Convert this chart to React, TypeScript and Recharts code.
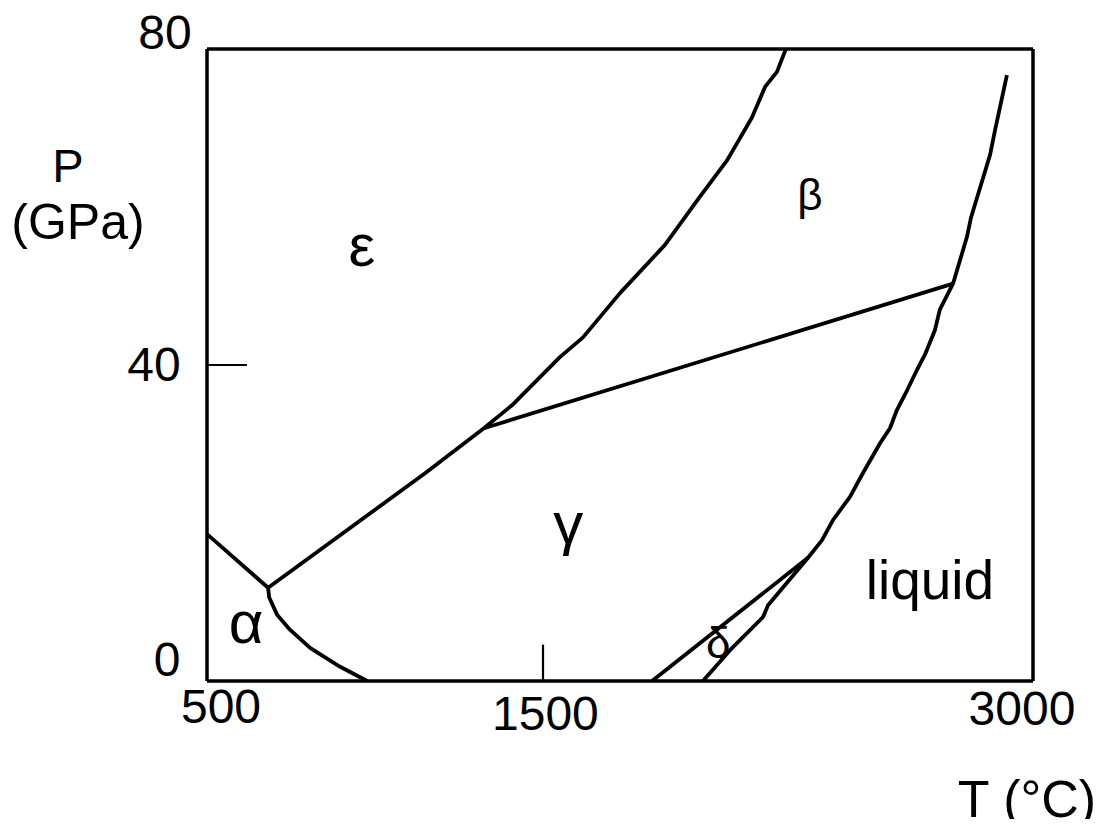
import React from 'react';
import {
  LineChart,
  Line,
  XAxis,
  YAxis,
  ReferenceLine,
  ReferenceDot,
} from 'recharts';

// phase boundaries, [T (°C), P (GPa)]
const alphaGammaHigh: [number, number][] = [
  [500, 18.6],
  [685, 11.8],
];
const alphaGammaLow: [number, number][] = [
  [685, 11.8],
  [688, 10.6],
  [712, 8.4],
  [751, 6.5],
  [812, 4.2],
  [903, 1.8],
  [985, 0],
];
const epsilonBoundary: [number, number][] = [
  [685, 11.8],
  [1160, 26.3],
  [1338, 32.0],
  [1423, 34.9],
  [1568, 41.0],
  [1638, 43.5],
  [1750, 49.1],
  [1886, 55.2],
  [1992, 61.3],
  [2074, 65.9],
  [2149, 71.3],
  [2189, 75.2],
  [2225, 77.1],
  [2252, 80.0],
];
const betaGamma: [number, number][] = [
  [1338, 32.0],
  [2758, 50.3],
];
const meltingCurve: [number, number][] = [
  [2001, 0],
  [2083, 3.9],
  [2183, 8.1],
  [2198, 9.6],
  [2319, 15.6],
  [2361, 17.8],
  [2395, 20.4],
  [2446, 23.3],
  [2485, 26.3],
  [2537, 30.1],
  [2567, 32.0],
  [2588, 34.3],
  [2619, 36.8],
  [2649, 39.4],
  [2673, 41.3],
  [2703, 44.4],
  [2718, 47.0],
  [2758, 50.3],
  [2800, 56.2],
  [2812, 58.6],
  [2870, 66.6],
  [2885, 69.7],
  [2921, 76.7],
];
const deltaGamma: [number, number][] = [
  [1847, 0],
  [2319, 15.6],
];

const xTicks = [500, 1500, 3000];
const yTicks = [0, 40, 80];

const phaseLabels = [
  { name: 'ε', T: 969, P: 55.2, big: true },
  { name: 'γ', T: 1593, P: 20.1, big: true },
  { name: 'α', T: 618, P: 7.5, big: true },
  { name: 'β', T: 2325, P: 61.6, big: false },
  { name: 'δ', T: 2047, P: 4.9, big: false },
];

const curves = [alphaGammaHigh, alphaGammaLow, epsilonBoundary, betaGamma, meltingCurve, deltaGamma];

const toRows = (pts: [number, number][]) => pts.map(([T, P]) => ({ T, P }));

const FONT = '"Liberation Sans", Arial, Helvetica, sans-serif';

// label placement in chart pixels (the original puts them slightly off the ticks)
const xTickStyle: Record<number, { dx: number; y: number }> = {
  500: { dx: 14, y: 723 },
  1500: { dx: 8, y: 730 },
  3000: { dx: -11, y: 725 },
};
const yTickStyle: Record<number, { x: number; y: number }> = {
  0: { x: 159, y: 676 },
  40: { x: 146, y: 381 },
  80: { x: 157, y: 49 },
};

const XTick = (props: any) => {
  const v = props.payload.value;
  const s = xTickStyle[v] || { dx: 0, y: props.y + 30 };
  return (
    <text x={props.x + s.dx} y={s.y} textAnchor="middle" fontSize={48} fill="#000">
      {v}
    </text>
  );
};

const YTick = (props: any) => {
  const v = props.payload.value;
  const s = yTickStyle[v] || { x: props.x - 20, y: props.y };
  return (
    <text x={s.x} y={s.y} textAnchor="middle" fontSize={48} fill="#000">
      {v}
    </text>
  );
};

export default function App() {
  const W = 1088;
  const H = 819;
  return (
    <div style={{ position: 'relative', width: W, height: H, marginTop: -8, fontFamily: FONT, background: '#fff' }}>
      <LineChart
        width={W}
        height={H}
        margin={{ top: 49, right: 63, left: 139, bottom: 108 }}
        style={{ overflow: 'visible' }}
      >
        <XAxis
          dataKey="T"
          type="number"
          domain={[500, 3000]}
          ticks={xTicks}
          height={30}
          allowDataOverflow
          axisLine={{ stroke: '#000', strokeWidth: 3.5 }}
          tickLine={false}
          tick={<XTick />}
          interval={0}
        />
        <YAxis
          dataKey="P"
          type="number"
          domain={[0, 80]}
          ticks={yTicks}
          width={60}
          allowDataOverflow
          axisLine={{ stroke: '#000', strokeWidth: 3.5 }}
          tickLine={false}
          tick={<YTick />}
          interval={0}
        />
        <ReferenceLine y={80} stroke="#000" strokeWidth={3.5} />
        <ReferenceLine x={3000} stroke="#000" strokeWidth={3.5} />
        <ReferenceLine segment={[{ x: 500, y: 40 }, { x: 621, y: 40 }]} stroke="#000" strokeWidth={2.2} />
        <ReferenceLine segment={[{ x: 1517, y: 0 }, { x: 1517, y: 4.6 }]} stroke="#000" strokeWidth={2.2} />
        {curves.map((c, i) => (
          <Line
            key={i}
            data={toRows(c)}
            dataKey="P"
            type="linear"
            stroke="#000"
            strokeWidth={3.8}
            strokeLinejoin="round"
            dot={false}
            activeDot={false}
            isAnimationActive={false}
          />
        ))}
        {phaseLabels.map((p) => (
          <ReferenceDot
            key={p.name}
            x={p.T}
            y={p.P}
            r={1}
            fill="none"
            stroke="none"
            label={{ value: p.name, position: 'center', fontSize: p.big ? 60 : 44, fill: '#000' }}
          />
        ))}
        <ReferenceDot
          x={2688}
          y={12.8}
          r={1}
          fill="none"
          stroke="none"
          label={{ value: 'liquid', position: 'center', fontSize: 55, fill: '#000' }}
        />
      </LineChart>
      <svg
        width={W}
        height={H}
        style={{ position: 'absolute', left: 0, top: 0, pointerEvents: 'none', overflow: 'visible' }}
      >
        <text x={60} y={182} textAnchor="middle" fontSize={47} fill="#000">P</text>
        <text x={70} y={239} textAnchor="middle" fontSize={50} fill="#000">(GPa)</text>
        <text x={1019} y={817} textAnchor="middle" fontSize={52} fill="#000">T (°C)</text>
      </svg>
    </div>
  );
}
